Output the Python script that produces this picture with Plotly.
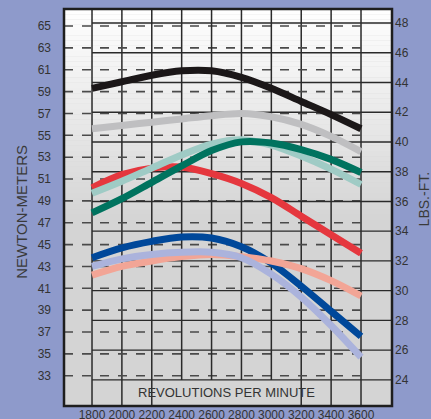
import plotly.graph_objects as go

rpm = [1800, 2000, 2200, 2400, 2600, 2800, 3000, 3200, 3400, 3600]

black = [59.3, 59.9, 60.5, 60.9, 60.9, 60.3, 59.3, 58.1, 56.9, 55.6]
gray = [55.6, 55.9, 56.2, 56.5, 56.8, 57.0, 56.7, 56.0, 54.9, 53.5]
dark_teal = [47.9, 49.2, 50.7, 52.2, 53.6, 54.4, 54.3, 53.7, 52.8, 51.6]
light_teal = [49.7, 50.8, 52.0, 53.2, 54.2, 54.6, 54.1, 53.1, 51.9, 50.5]
red = [50.2, 51.4, 52.0, 52.1, 51.5, 50.6, 49.3, 47.6, 45.9, 44.2]
dark_blue = [43.8, 44.7, 45.3, 45.7, 45.6, 44.8, 43.3, 41.2, 38.9, 36.6]
lavender = [43.0, 43.7, 44.1, 44.3, 44.3, 43.8, 42.3, 40.2, 37.6, 34.7]
salmon = [42.2, 43.0, 43.5, 43.9, 44.1, 43.9, 43.5, 42.8, 41.7, 40.3]

nm_ticks = list(range(33, 66, 2))
lbft_ticks = list(range(24, 49, 2))
x_title = "REVOLUTIONS PER MINUTE"
left_title = "NEWTON-METERS"
right_title = "LBS.-FT."

XMIN, XMAX = 1612.6, 3807.4
NM_RANGE = [30.23, 66.56]
LB_RANGE = [22.25, 48.94]

series = [
    (red, "#e5373e"),
    (light_teal, "#9fcbc5"),
    (dark_teal, "#00735f"),
    (gray, "#bfbfc1"),
    (black, "#1b1718"),
    (dark_blue, "#00489a"),
    (salmon, "#f2a596"),
    (lavender, "#abb3dc"),
]

fig = go.Figure()
for vals, col in series:
    fig.add_trace(go.Scatter(x=rpm, y=vals, mode="lines",
                             line=dict(color=col, width=7, shape="spline", smoothing=0.9),
                             showlegend=False, hoverinfo="skip"))
fig.add_trace(go.Scatter(x=[None], y=[None], yaxis="y2", showlegend=False, hoverinfo="skip"))

shapes = []
# background gradient
N = 40
g0 = 0.47
for i in range(N):
    y0 = g0 + (1 - g0) * i / N
    y1 = g0 + (1 - g0) * (i + 1) / N
    t = (i + 0.5) / N
    v = int(round(212 + (255 - 212) * t))
    shapes.append(dict(type="rect", xref="paper", yref="paper", x0=0, x1=1, y0=y0, y1=y1,
                       fillcolor=f"rgb({v},{v},{v})", line=dict(width=0), layer="below"))
# dashed Nm lines
for v in nm_ticks:
    shapes.append(dict(type="line", xref="x", yref="y", x0=XMIN, x1=rpm[-1], y0=v, y1=v,
                       line=dict(color="#4a4a4a", width=1.6, dash="dash"), layer="below"))
# solid lbft lines
for v in lbft_ticks:
    shapes.append(dict(type="line", xref="x", yref="y2", x0=rpm[0], x1=XMAX, y0=v, y1=v,
                       line=dict(color="#2a2a2a", width=1.3), layer="below"))
# vertical lines
for r in rpm:
    if 2200 < r < 3200:
        shapes.append(dict(type="line", xref="x", yref="y2", x0=r, x1=r, y0=lbft_ticks[0], y1=LB_RANGE[1],
                           line=dict(color="#2a2a2a", width=1.5), layer="below"))
    else:
        shapes.append(dict(type="line", xref="x", yref="paper", x0=r, x1=r, y0=0, y1=1,
                           line=dict(color="#2a2a2a", width=1.5), layer="below"))
# frame
shapes.append(dict(type="rect", xref="paper", yref="paper", x0=0, x1=1, y0=0, y1=1,
                   line=dict(color="#1e1e1e", width=2.5), fillcolor="rgba(0,0,0,0)", layer="above"))

tickfont = dict(family="Liberation Sans Narrow, Arial Narrow, Liberation Sans, sans-serif", size=12, color="#333333")

fig.update_layout(
    width=431, height=419,
    margin=dict(l=64, r=39, t=9, b=13, autoexpand=False),
    paper_bgcolor="#8e9acb",
    plot_bgcolor="#d4d4d4",
    shapes=shapes,
    xaxis=dict(range=[XMIN, XMAX], tickvals=rpm, showgrid=False, zeroline=False, automargin=False,
               showline=False, ticks="", tickfont=tickfont, ticklabelstandoff=0),
    yaxis=dict(range=NM_RANGE, tickvals=nm_ticks, showgrid=False, zeroline=False, automargin=False,
               showline=False, ticks="", tickfont=tickfont, ticklabelstandoff=12),
    yaxis2=dict(range=LB_RANGE, tickvals=lbft_ticks, overlaying="y", side="right", automargin=False,
                showgrid=False, zeroline=False, showline=False, ticks="",
                tickfont=tickfont, ticklabelstandoff=2),
    annotations=[
        dict(text=x_title, xref="x", yref="paper", x=2700, y=0.033, xanchor="center", yanchor="middle",
             showarrow=False,
             font=dict(family="Liberation Sans Narrow, Arial Narrow, Liberation Sans, sans-serif", size=13, color="#333333")),
        dict(text=left_title, xref="paper", yref="paper", x=-0.13, y=0.49, xanchor="center", yanchor="middle",
             showarrow=False, textangle=-90,
             font=dict(family="Liberation Sans, Arial, sans-serif", size=15, color="#3a3a3a")),
        dict(text=right_title, xref="paper", yref="paper", x=1.097, y=0.52, xanchor="center", yanchor="middle",
             showarrow=False, textangle=-90,
             font=dict(family="Liberation Sans, Arial, sans-serif", size=14, color="#3a3a3a")),
    ],
)

fig.write_html("out.html", config={"displayModeBar": False},
               post_script="document.body.style.margin='0';document.body.style.overflow='hidden';")
